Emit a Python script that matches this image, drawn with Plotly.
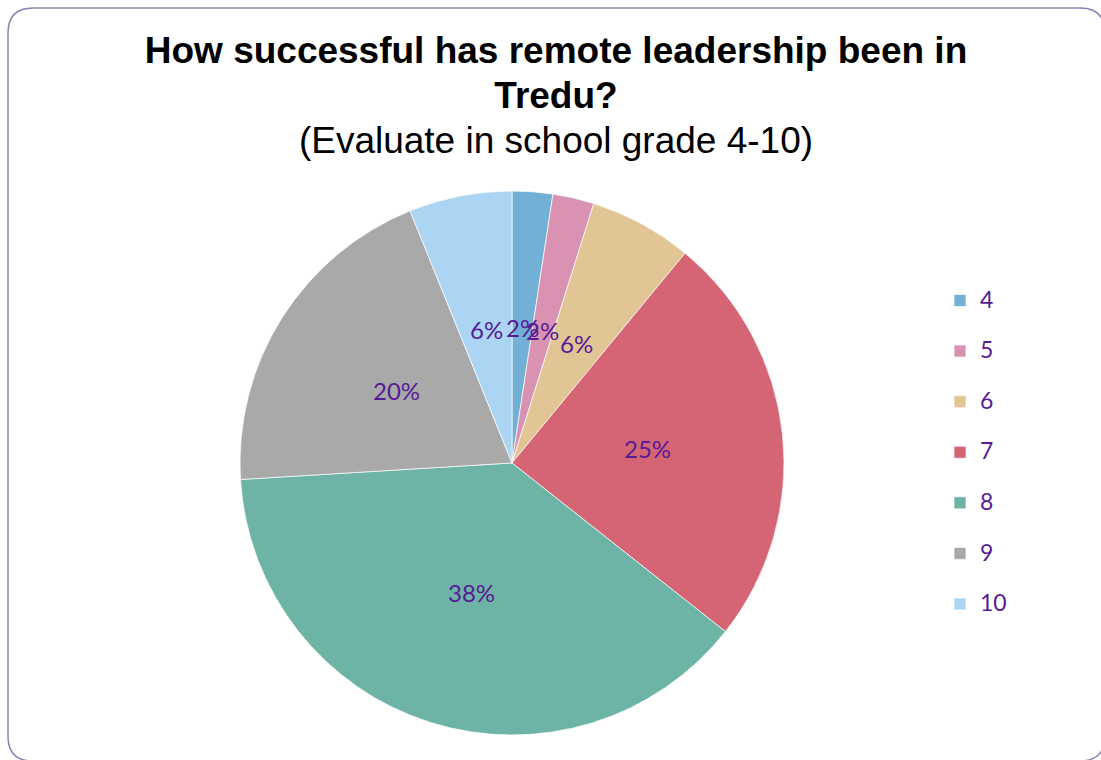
import math
import plotly.graph_objects as go

categories = ["4", "5", "6", "7", "8", "9", "10"]
shares = [2.4, 2.45, 6.1, 24.6, 38.3, 19.8, 6.1]
colors = ["#72B0D6", "#D992B2", "#E2C595", "#D56475", "#6DB3A6", "#A9A9A9", "#ACD4F3"]
title_lines = ["<b>How successful has remote leadership been in</b>", "<b>Tredu?</b>",
               "(Evaluate in school grade 4-10)"]

W, H = 1101, 760
cx, cy, R = 512, 463, 272
TXT = "#561C96"

fig = go.Figure(go.Pie(
    labels=["<br><span style='font-size:23px'>" + c + "</span>" for c in categories],
    values=shares,
    sort=False,
    direction="clockwise",
    rotation=0,
    marker=dict(colors=colors, line=dict(color="rgba(255,255,255,0.7)", width=1)),
    textinfo="none",
    hoverinfo="skip",
    domain=dict(x=[(cx - R) / W, (cx + R) / W], y=[1 - (cy + R) / H, 1 - (cy - R) / H]),
))

# percentage labels at half radius along each slice's middle angle (Excel style)
total = sum(shares)
annotations = []
cum = 0.0
for v in shares:
    mid = (cum + v / 2) / total * 2 * math.pi
    cum += v
    lx = cx + 0.5 * R * math.sin(mid)
    ly = cy - 0.5 * R * math.cos(mid)
    annotations.append(dict(
        x=lx / W, y=1 - ly / H, xref="paper", yref="paper",
        text=f"{round(v / total * 100)}%", showarrow=False,
        xanchor="center", yanchor="middle",
        font=dict(family="Lato", size=24, color=TXT),
    ))

# rounded chart border
x0, y0, x1, y1, r = 8, 8, 1105, 761, 25
def px(x):
    return x / W
def py(y):
    return 1 - y / H
path = (f"M {px(x0 + r)} {py(y0)} L {px(x1 - r)} {py(y0)} Q {px(x1)} {py(y0)} {px(x1)} {py(y0 + r)} "
        f"L {px(x1)} {py(y1 - r)} Q {px(x1)} {py(y1)} {px(x1 - r)} {py(y1)} "
        f"L {px(x0 + r)} {py(y1)} Q {px(x0)} {py(y1)} {px(x0)} {py(y1 - r)} "
        f"L {px(x0)} {py(y0 + r)} Q {px(x0)} {py(y0)} {px(x0 + r)} {py(y0)} Z")

title_text = "<br>".join("<span style='font-size:37px'>" + t + "</span>" for t in title_lines)

fig.update_layout(
    width=W, height=H,
    margin=dict(l=0, r=0, t=0, b=0),
    paper_bgcolor="white",
    plot_bgcolor="white",
    title=dict(
        text=title_text,
        x=556 / W, xanchor="center", xref="paper",
        y=1 - 63 / H, yanchor="top", yref="container",
        font=dict(family="Liberation Sans", size=34.5, color="black"),
    ),
    annotations=annotations,
    legend=dict(
        x=940 / W, xanchor="left",
        y=0.42, yanchor="middle",
        font=dict(family="Lato", size=18.3, color=TXT),
        valign="bottom",
        itemwidth=30,
        bgcolor="rgba(0,0,0,0)",
    ),
    shapes=[dict(type="path", xref="paper", yref="paper", path=path,
                 line=dict(color="#8E80B6", width=1.5), layer="below")],
)

fig.write_html("out.html")
